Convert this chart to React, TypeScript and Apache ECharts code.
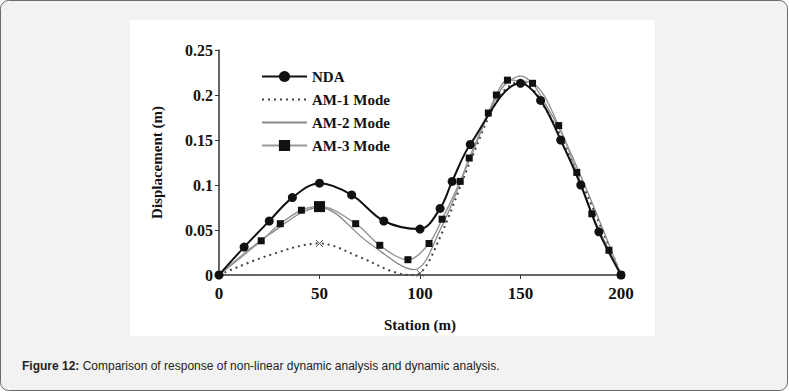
import React, { useEffect, useRef } from "react";
import * as echarts from "echarts";

const ndaX = [0, 12.5, 25, 36.5, 50, 66, 82, 100, 110, 116, 125, 150, 160, 170, 180, 189, 200];
const ndaY = [0, 0.031, 0.06, 0.086, 0.102, 0.089, 0.06, 0.051, 0.074, 0.104, 0.145, 0.213, 0.194, 0.15, 0.1, 0.048, 0];

const am1X = [0, 25, 50, 70, 85, 95, 100, 110, 125, 140, 150, 165, 180, 200];
const am1Y = [0, 0.022, 0.035, 0.02, 0.005, 0.0, 0.002, 0.042, 0.126, 0.2, 0.215, 0.175, 0.105, 0];
const am1Marked = [50, 100];

const am2X = [0, 25, 50, 75, 97, 110, 125, 140, 150, 165, 180, 200];
const am2Y = [0, 0.045, 0.075, 0.035, 0.006, 0.05, 0.13, 0.205, 0.221, 0.18, 0.11, 0];

const am3X = [0, 21, 30.5, 41, 50, 68, 80, 94, 104.5, 111, 120, 124.5, 134, 138, 143.5, 156, 169, 178, 185.5, 194, 200];
const am3Y = [0, 0.038, 0.057, 0.072, 0.076, 0.057, 0.033, 0.017, 0.035, 0.062, 0.104, 0.13, 0.18, 0.2, 0.2165, 0.213, 0.166, 0.114, 0.068, 0.0275, 0];

const xTicks = [0, 50, 100, 150, 200];
const yTicks = [0, 0.05, 0.1, 0.15, 0.2, 0.25];

const seriesNames = ["NDA", "AM-1 Mode", "AM-2 Mode", "AM-3 Mode"];
const caption = "Comparison of response of non-linear dynamic analysis and dynamic analysis.";

const xMark = "path://M0,0L10,10M10,0L0,10";

export default function App() {
  const ref = useRef<HTMLDivElement>(null);
  useEffect(() => {
    if (!ref.current) return;
    const chart = echarts.init(ref.current, undefined, { renderer: "svg" });
    const serif = "Liberation Serif";
    const pair = (xs: number[], ys: number[]) => xs.map((x, i) => [x, ys[i]]);
    chart.setOption({
      animation: false,
      backgroundColor: "#ffffff",
      graphic: [
        {
          type: "rect",
          z: -10,
          silent: true,
          shape: { x: 0.5, y: 0.5, width: 787, height: 390, r: 8 },
          style: { fill: "#f2f2f2", stroke: "#6b6b6b", lineWidth: 1 },
        },
        {
          type: "rect",
          z: -9,
          silent: true,
          shape: { x: 130, y: 20, width: 525, height: 316 },
          style: { fill: "#ffffff" },
        },
        {
          type: "text",
          left: 22,
          top: 360,
          style: {
            text: "{b|Figure 12:} {n|" + caption + "}",
            rich: {
              b: { fontFamily: "Liberation Sans", fontSize: 12, fontWeight: "bold", fill: "#222" },
              n: { fontFamily: "Liberation Sans", fontSize: 12, fill: "#222" },
            },
          },
        },
      ],
      legend: {
        orient: "vertical",
        left: 256,
        top: 64,
        itemWidth: 45,
        itemHeight: 14,
        itemGap: 8,
        data: [
          { name: seriesNames[0] },
          { name: seriesNames[1], itemStyle: { opacity: 0 } },
          { name: seriesNames[2], itemStyle: { opacity: 0 } },
          { name: seriesNames[3] },
        ],
        textStyle: { fontFamily: serif, fontWeight: "bold", fontSize: 15, color: "#111" },
      },
      grid: { left: 219, right: 168, top: 50, bottom: 117, containLabel: false },
      xAxis: {
        type: "value",
        min: xTicks[0],
        max: xTicks[xTicks.length - 1],
        interval: 50,
        name: "Station (m)",
        nameLocation: "middle",
        nameGap: 42,
        nameTextStyle: { fontFamily: serif, fontWeight: "bold", fontSize: 15, color: "#111" },
        axisLine: { lineStyle: { color: "#333", width: 1.5 } },
        axisTick: { length: 4, lineStyle: { color: "#333" } },
        splitLine: { show: false },
        axisLabel: { fontFamily: serif, fontWeight: "bold", fontSize: 17, color: "#111", margin: 10 },
      },
      yAxis: {
        type: "value",
        min: yTicks[0],
        max: yTicks[yTicks.length - 1],
        interval: 0.05,
        name: "Displacement (m)",
        nameLocation: "middle",
        nameGap: 55,
        nameTextStyle: { fontFamily: serif, fontWeight: "bold", fontSize: 15, color: "#111" },
        axisLine: { show: true, lineStyle: { color: "#333", width: 1.5 } },
        axisTick: { show: true, length: 4, lineStyle: { color: "#333" } },
        splitLine: { show: false },
        axisLabel: { fontFamily: serif, fontWeight: "bold", fontSize: 16, color: "#111", margin: 6 },
      },
      series: [
        {
          name: "NDA",
          type: "line",
          smooth: 0.35,
          data: pair(ndaX, ndaY),
          symbol: "circle",
          symbolSize: 9,
          lineStyle: { color: "#111", width: 2 },
          itemStyle: { color: "#111" },
          z: 5,
        },
        {
          name: "AM-1 Mode",
          type: "line",
          smooth: 0.35,
          data: pair(am1X, am1Y).map((p) =>
            am1Marked.includes(p[0])
              ? { value: p, symbol: xMark, symbolSize: 7, itemStyle: { borderColor: "#555", borderWidth: 1 } }
              : { value: p, symbol: "none" }
          ),
          symbol: "none",
          showSymbol: true,
          lineStyle: { color: "#444", width: 2, type: [2, 4] },
          itemStyle: { color: "#444" },
          z: 2,
        },
        {
          name: "AM-2 Mode",
          type: "line",
          smooth: 0.35,
          data: pair(am2X, am2Y),
          symbol: "none",
          lineStyle: { color: "#8a8a8a", width: 1.3 },
          itemStyle: { color: "#8a8a8a" },
          z: 3,
        },
        {
          name: "AM-3 Mode",
          type: "line",
          smooth: 0.35,
          data: pair(am3X, am3Y).map((p) =>
            p[0] === 50 ? { value: p, symbolSize: 11 } : p[0] === 0 ? { value: p, symbol: "none" } : { value: p }
          ),
          symbol: "rect",
          symbolSize: 7,
          lineStyle: { color: "#9a9a9a", width: 1.5 },
          itemStyle: { color: "#111" },
          z: 4,
        },
      ],
    });
    return () => chart.dispose();
  }, []);
  return (
    <div
      ref={ref}
      style={{ position: "absolute", left: 0, top: 0, width: 789, height: 392 }}
    />
  );
}
